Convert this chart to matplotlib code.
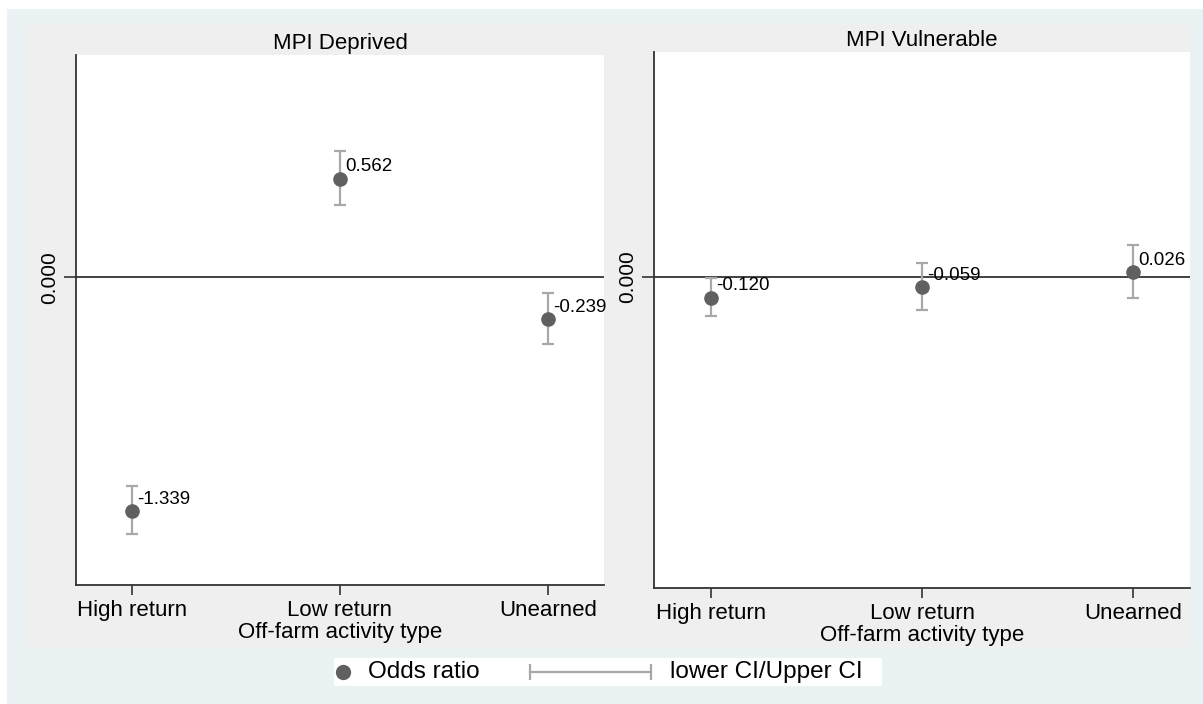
import numpy as np
import matplotlib
matplotlib.use("Agg")
import matplotlib.pyplot as plt
from matplotlib.patches import Rectangle

plt.rcParams['font.family'] = ['Liberation Sans', 'DejaVu Sans']

categories = ["High return", "Low return", "Unearned"]
xlabel = "Off-farm activity type"

deprived_or = [-1.339, 0.562, -0.239]
deprived_lo = [-1.469, 0.410, -0.383]
deprived_hi = [-1.194, 0.720, -0.091]

vulner_or = [-0.120, -0.059, 0.026]
vulner_lo = [-0.225, -0.188, -0.118]
vulner_hi = [-0.005, 0.080, 0.180]

panels = [("MPI Deprived", deprived_or, deprived_lo, deprived_hi),
          ("MPI Vulnerable", vulner_or, vulner_lo, vulner_hi)]

W, H = 1203, 704
fig = plt.figure(figsize=(W / 100, H / 100), dpi=100, facecolor='white')

def px_rect(x0, y0, x1, y1):
    # pixel box (top-left origin) -> figure fraction rect
    return [x0 / W, 1 - y1 / H, (x1 - x0) / W, (y1 - y0) / H]

# outer and panel backgrounds (stata-ish)
r = px_rect(7, 9, 1203, 704)
fig.patches.append(Rectangle((r[0], r[1]), r[2], r[3], transform=fig.transFigure,
                             facecolor='#EAF2F3', edgecolor='none', zorder=-2))
r = px_rect(25, 25, 1190, 647)
fig.patches.append(Rectangle((r[0], r[1]), r[2], r[3], transform=fig.transFigure,
                             facecolor='#EFEFEF', edgecolor='none', zorder=-1))

axes_px = [(76, 55, 604, 585), (654, 52, 1190, 588)]
pt_col = '#606060'
ci_col = '#A8A8A8'
ax_col = '#333333'

for (title, est, lo, hi), box in zip(panels, axes_px):
    ax = fig.add_axes(px_rect(*box))
    ax.set_facecolor('white')
    x = np.arange(1, len(categories) + 1)
    est = np.array(est)
    yerr = [est - np.array(lo), np.array(hi) - est]
    ax.errorbar(x, est, yerr=yerr, fmt='none', ecolor=ci_col, elinewidth=1.6,
                capsize=4.5, capthick=1.6, zorder=2)
    ax.plot(x, est, 'o', color=pt_col, markersize=9.5, zorder=3)
    for xi, v in zip(x, est):
        ax.annotate(f"{v:.3f}", (xi, v), xytext=(3.6, 8.6), textcoords='offset points',
                    ha='left', va='center', fontsize=13.5, color='black', zorder=4)
    ax.axhline(0, color=ax_col, lw=1.3, zorder=1)
    ax.set_xlim(0.73, 3.27)
    ax.set_ylim(-1.76, 1.27)
    ax.set_xticks(x)
    ax.set_xticklabels(categories, fontsize=16)
    ax.set_yticks([0])
    ax.set_yticklabels(["0.000"], fontsize=15, rotation=90, va='center')
    ax.tick_params(axis='x', color=ax_col, length=7, width=1.2, pad=4)
    ax.tick_params(axis='y', color=ax_col, length=9, width=1.2, pad=3)
    ax.set_xlabel(xlabel, fontsize=16, labelpad=0.5)
    ax.set_title(title, fontsize=16, pad=4)
    for s in ['top', 'right']:
        ax.spines[s].set_visible(False)
    for s in ['left', 'bottom']:
        ax.spines[s].set_color(ax_col)
        ax.spines[s].set_linewidth(1.3)

# legend box at the bottom
lg = fig.add_axes(px_rect(334, 658, 882, 686))
lg.set_facecolor('white')
lg.set_xlim(0, 548)
lg.set_ylim(0, 28)
lg.set_xticks([])
lg.set_yticks([])
for s in lg.spines.values():
    s.set_visible(False)
lg.plot([9], [14], 'o', color=pt_col, markersize=10)
lg.text(34, 14, "Odds ratio", fontsize=17.5, va='center', ha='left')
lg.plot([196, 317], [14, 14], color=ci_col, lw=1.6, marker='|', markersize=11,
        markeredgewidth=1.6)
lg.text(336, 14, "lower CI/Upper CI", fontsize=17.5, va='center', ha='left')

fig.savefig("out.png", dpi=100, facecolor=fig.get_facecolor())
